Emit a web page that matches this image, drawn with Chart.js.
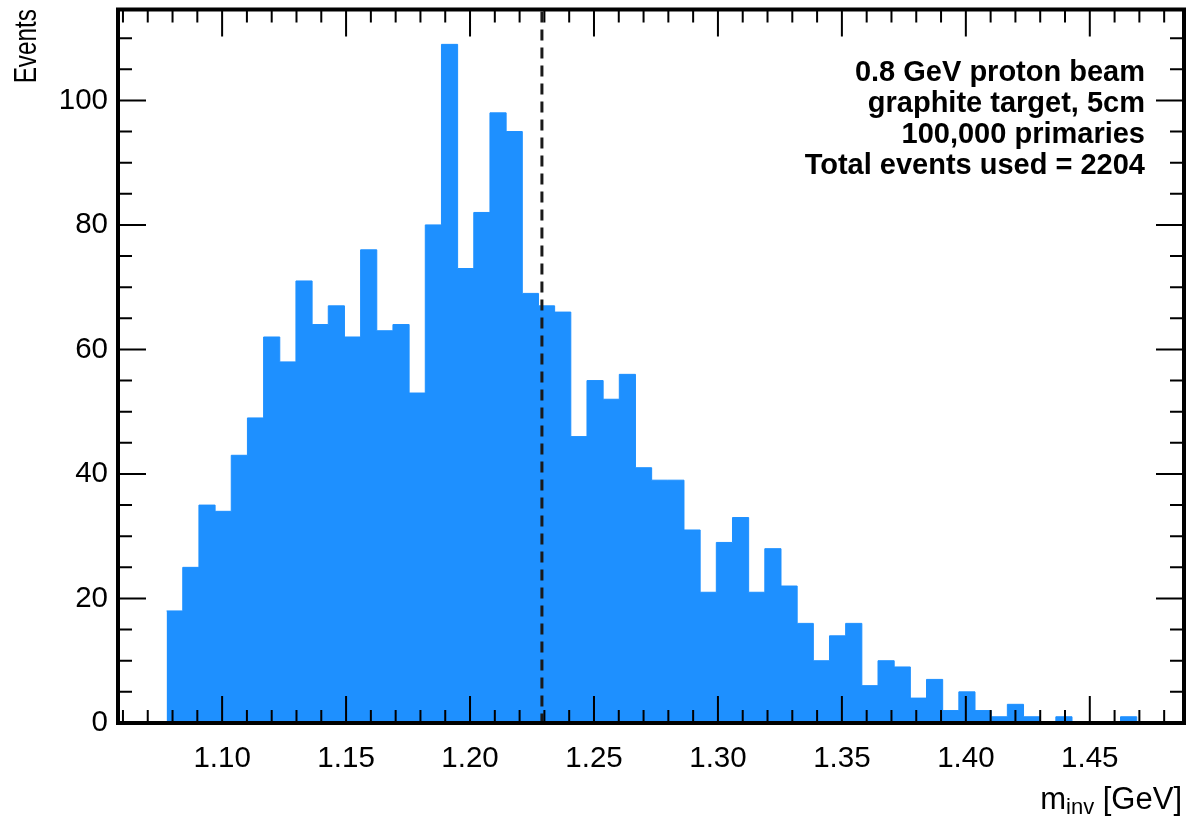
<!DOCTYPE html>
<html>
<head>
<meta charset="utf-8">
<title>Invariant mass spectrum</title>
<script src="https://cdn.jsdelivr.net/npm/chart.js@4.4.1/dist/chart.umd.min.js"></script>
<style>
  html, body { margin: 0; padding: 0; background: #fff; }
  #wrap { position: relative; width: 1186px; height: 821px; }
</style>
</head>
<body>
<div id="wrap"><canvas id="massChart" width="1186" height="821"></canvas></div>
<script>
// Histogram binning (GeV) - first filled bin sits at the p + pi threshold
const binStart = 1.0776;
const binWidth = 0.006522;

// Events per bin (sums to 2204)
const binCounts = [
    18, 25, 35, 34, 43, 49, 62, 58, 71, 64,
    67, 62, 76, 63, 64, 53, 80, 109, 73, 82,
    98, 95, 69, 67, 66, 46, 55, 52, 56, 41,
    39, 39, 31, 21, 29, 33, 21, 28, 22, 16,
    10, 14, 16, 6, 10, 9, 4, 7, 2, 5,
    2, 1, 3, 1, 0, 1, 0, 0, 0, 1
];

// Axis ranges and labelled ticks
const xRange = [1.058, 1.488];
const yRange = [0, 114.6];
const xTickValues = [1.10, 1.15, 1.20, 1.25, 1.30, 1.35, 1.40, 1.45];
const yTickValues = [0, 20, 40, 60, 80, 100];

// Dashed marker line position
const refMass = 1.229;

const infoLines = [
    '0.8 GeV proton beam',
    'graphite target, 5cm',
    '100,000 primaries',
    'Total events used = 2204'
];

const FONT = '"Liberation Sans", Arial, Helvetica, sans-serif';
const BAR_COLOR = '#1E90FF';

// Step outline: one point per bin low edge, plus the closing upper edge
function buildSteps() {
    const pts = binCounts.map((c, i) => ({ x: binStart + i * binWidth, y: c }));
    pts.push({ x: binStart + binCounts.length * binWidth, y: 0 });
    return pts;
}

/**
 * Frame, inward ticks on all four sides, marker line and text
 */
const framePlugin = {
    id: 'framePlugin',
    afterDatasetsDraw(chart) {
        const { ctx, chartArea: a, scales: { x, y } } = chart;
        ctx.save();

        // dashed marker
        const xr = x.getPixelForValue(refMass);
        ctx.strokeStyle = '#1a1a1a';
        ctx.lineWidth = 3;
        ctx.setLineDash([11, 7]);
        ctx.beginPath();
        ctx.moveTo(xr, a.top + 2);
        ctx.lineTo(xr, a.bottom);
        ctx.stroke();
        ctx.setLineDash([]);

        // x ticks every 0.01, major every 0.05
        ctx.strokeStyle = '#000';
        ctx.lineWidth = 2;
        ctx.beginPath();
        for (let k = 106; k <= 148; k++) {
            const px = x.getPixelForValue(k / 100);
            if (px < a.left + 2 || px > a.right - 2) continue;
            const len = (k % 5 === 0) ? 27 : 13;
            ctx.moveTo(px, a.bottom);
            ctx.lineTo(px, a.bottom - len);
            ctx.moveTo(px, a.top);
            ctx.lineTo(px, a.top + len);
        }
        // y ticks every 5, major every 20
        for (let v = 0; v <= 110; v += 5) {
            const py = y.getPixelForValue(v);
            const len = (v % 20 === 0) ? 28 : 14;
            ctx.moveTo(a.left, py);
            ctx.lineTo(a.left + len, py);
            ctx.moveTo(a.right, py);
            ctx.lineTo(a.right - len, py);
        }
        ctx.stroke();

        // frame
        ctx.lineWidth = 4;
        ctx.strokeRect(a.left, a.top, a.right - a.left, a.bottom - a.top);

        // info box
        ctx.fillStyle = '#000';
        ctx.font = 'bold 29px ' + FONT;
        ctx.textAlign = 'right';
        ctx.textBaseline = 'alphabetic';
        infoLines.forEach((line, i) => {
            ctx.fillText(line, 1145, 81 + i * 31);
        });

        // y title (the original font is narrower, so squeeze along the text)
        ctx.save();
        ctx.translate(36, 9);
        ctx.rotate(-Math.PI / 2);
        ctx.scale(0.76, 1);
        ctx.font = '32px ' + FONT;
        ctx.textAlign = 'right';
        ctx.fillText('Events', 0, 0);
        ctx.restore();

        // x title with subscript
        ctx.textAlign = 'left';
        const mainFont = '31px ' + FONT;
        const subFont = '22px ' + FONT;
        ctx.font = mainFont;
        const wM = ctx.measureText('m').width;
        const wRest = ctx.measureText(' [GeV]').width;
        ctx.font = subFont;
        const wSub = ctx.measureText('inv').width;
        let tx = 1182 - (wM + wSub + wRest);
        const base = 809;
        ctx.font = mainFont;
        ctx.fillText('m', tx, base);
        tx += wM;
        ctx.font = subFont;
        ctx.fillText('inv', tx, base + 5);
        tx += wSub;
        ctx.font = mainFont;
        ctx.fillText(' [GeV]', tx, base);

        ctx.restore();
    }
};

new Chart(document.getElementById('massChart'), {
    type: 'line',
    data: {
        datasets: [{
            label: 'Events',
            data: buildSteps(),
            stepped: true,
            fill: 'origin',
            backgroundColor: BAR_COLOR,
            borderColor: BAR_COLOR,
            borderWidth: 1,
            pointRadius: 0,
            tension: 0
        }]
    },
    options: {
        responsive: false,
        devicePixelRatio: 1,
        animation: false,
        layout: {
            padding: { left: 0, right: 2, top: 9.5, bottom: 0 }
        },
        plugins: {
            legend: { display: false },
            tooltip: { enabled: false }
        },
        scales: {
            x: {
                type: 'linear',
                min: xRange[0],
                max: xRange[1],
                grid: { display: false, drawTicks: false },
                border: { display: false },
                afterBuildTicks: function(scale) {
                    scale.ticks = xTickValues.map(v => ({ value: v }));
                },
                afterFit: function(scale) {
                    scale.height = 98;
                    scale.paddingLeft = 0;
                    scale.paddingRight = 0;
                },
                ticks: {
                    autoSkip: false,
                    maxRotation: 0,
                    padding: 18,
                    color: '#000',
                    font: { family: FONT, size: 29.5 },
                    callback: function(value) {
                        return Number(value).toFixed(2);
                    }
                }
            },
            y: {
                type: 'linear',
                min: yRange[0],
                max: yRange[1],
                grid: { display: false, drawTicks: false },
                border: { display: false },
                afterBuildTicks: function(scale) {
                    scale.ticks = yTickValues.map(v => ({ value: v }));
                },
                afterFit: function(scale) {
                    scale.width = 118;
                    scale.paddingTop = 0;
                    scale.paddingBottom = 0;
                },
                ticks: {
                    autoSkip: false,
                    padding: 10,
                    color: '#000',
                    font: { family: FONT, size: 29.5 }
                }
            }
        }
    },
    plugins: [framePlugin]
});
</script>
</body>
</html>
